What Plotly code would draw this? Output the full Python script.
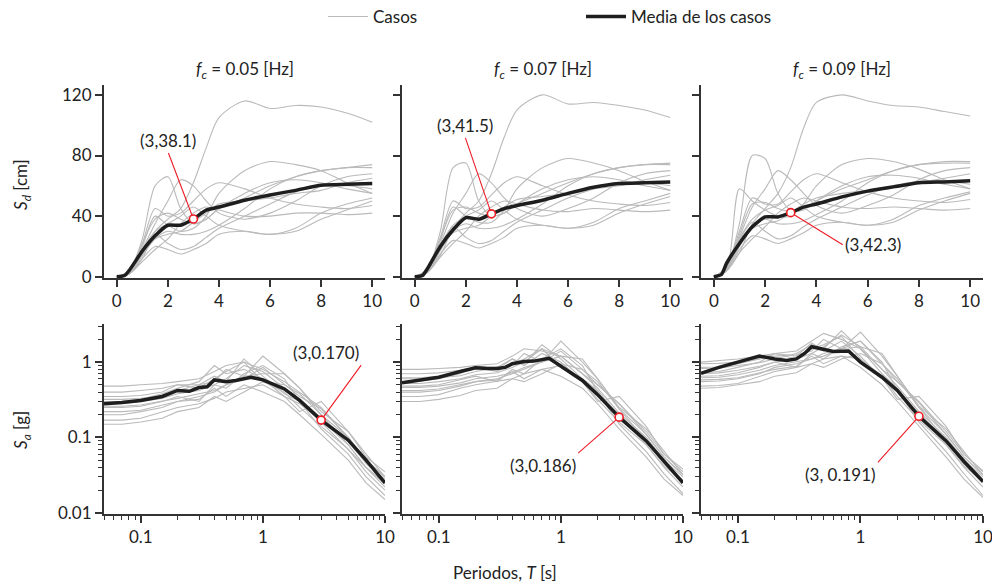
import math
import plotly.graph_objects as go

# ---------------- data ----------------
fc_labels = ["0.05", "0.07", "0.09"]

T_sd = [0, 0.5, 1, 1.5, 2, 2.5, 3, 3.5, 4, 5, 6, 7, 8, 9, 10]
sd_cases_1 = [
    [0, 2, 12, 30, 38, 45, 62, 85, 105, 116, 111, 113, 112, 108, 102],
    [0, 4, 25, 60, 66, 45, 35, 38, 45, 52, 60, 66, 70, 72, 74],
    [0, 3, 18, 35, 50, 64, 60, 50, 42, 38, 42, 50, 60, 66, 68],
    [0, 3, 20, 40, 34, 30, 32, 40, 55, 70, 76, 74, 70, 62, 55],
    [0, 2, 14, 25, 30, 28, 28, 30, 34, 45, 58, 66, 70, 72, 72],
    [0, 3, 16, 28, 22, 18, 20, 26, 32, 40, 48, 56, 60, 60, 58],
    [0, 4, 22, 45, 40, 42, 50, 58, 62, 58, 52, 48, 46, 45, 47],
    [0, 2, 12, 20, 18, 15, 18, 22, 28, 30, 28, 32, 42, 48, 52],
    [0, 3, 18, 30, 35, 40, 46, 40, 34, 30, 28, 30, 38, 44, 50],
    [0, 3, 22, 38, 42, 38, 35, 38, 45, 55, 62, 64, 62, 58, 55],
    [0, 2, 10, 18, 25, 35, 42, 46, 44, 40, 40, 42, 42, 41, 42],
    [0, 3, 15, 25, 28, 30, 36, 42, 48, 50, 52, 55, 57, 62, 65],
]
sd_cases_2 = [
    [0, 3, 14, 32, 42, 50, 68, 92, 110, 120, 114, 115, 113, 110, 105],
    [0, 5, 30, 72, 75, 50, 40, 42, 48, 55, 62, 68, 72, 74, 75],
    [0, 4, 22, 42, 55, 68, 62, 52, 45, 40, 45, 52, 62, 68, 70],
    [0, 4, 24, 46, 40, 36, 36, 44, 58, 72, 78, 75, 70, 63, 57],
    [0, 3, 17, 30, 35, 32, 32, 34, 38, 48, 60, 68, 72, 74, 74],
    [0, 4, 20, 33, 26, 22, 24, 30, 36, 44, 52, 58, 62, 62, 60],
    [0, 5, 26, 50, 45, 46, 54, 62, 66, 60, 54, 50, 48, 47, 49],
    [0, 3, 15, 24, 22, 19, 22, 26, 32, 34, 32, 36, 45, 50, 55],
    [0, 4, 21, 34, 40, 44, 50, 44, 38, 34, 32, 34, 42, 48, 53],
    [0, 4, 25, 44, 46, 42, 40, 42, 48, 58, 64, 66, 64, 60, 57],
    [0, 3, 13, 22, 30, 40, 46, 50, 48, 44, 43, 45, 44, 43, 44],
    [0, 4, 18, 29, 32, 34, 40, 46, 51, 53, 55, 58, 60, 64, 67],
]
sd_cases_3 = [
    [0, 4, 16, 35, 45, 55, 72, 98, 115, 120, 116, 113, 112, 109, 106],
    [0, 6, 35, 80, 78, 55, 44, 45, 50, 58, 64, 70, 74, 76, 76],
    [0, 5, 26, 46, 58, 70, 64, 55, 47, 42, 47, 54, 64, 70, 72],
    [0, 5, 58, 50, 44, 40, 40, 48, 60, 74, 78, 76, 71, 64, 58],
    [0, 4, 20, 34, 38, 35, 35, 37, 41, 50, 62, 70, 74, 75, 75],
    [0, 5, 24, 36, 30, 25, 27, 33, 38, 46, 54, 60, 63, 63, 61],
    [0, 6, 30, 52, 48, 48, 56, 64, 68, 62, 56, 52, 50, 49, 51],
    [0, 4, 18, 27, 25, 22, 25, 29, 34, 36, 34, 38, 47, 52, 56],
    [0, 5, 25, 38, 44, 47, 52, 46, 40, 36, 34, 36, 44, 50, 55],
    [0, 5, 28, 48, 49, 45, 43, 44, 50, 60, 66, 67, 65, 61, 58],
    [0, 4, 16, 25, 33, 42, 48, 52, 50, 46, 45, 46, 45, 44, 45],
    [0, 5, 21, 32, 35, 37, 42, 48, 52, 55, 57, 60, 62, 65, 68],
]

T_sd_mean = [0, 0.3, 0.5, 1, 1.5, 2, 2.5, 3, 3.5, 4, 5, 6, 7, 8, 9, 10]
sd_mean_1 = [0, 0.8, 4.5, 17, 27, 34, 34, 38.1, 44, 46, 50.5, 54, 57, 60.4, 61, 61.5]
sd_mean_2 = [0, 0.8, 5.5, 20, 31, 39, 38, 41.5, 45, 47, 50.5, 55, 59, 61.5, 62, 62.5]
sd_mean_3 = [0, 1.5, 9, 22, 33, 39.5, 39.5, 42.3, 46, 48, 52.7, 56.5, 59.3, 62, 62.6, 63.3]

T_sa = [0.05, 0.07, 0.1, 0.15, 0.2, 0.3, 0.4, 0.5, 0.7, 1, 1.5, 2, 3, 5, 7, 10]
sa_cases_1 = [
    [0.48, 0.48, 0.5, 0.52, 0.55, 0.6, 0.75, 0.9, 1.0, 0.8, 0.55, 0.4, 0.25, 0.1, 0.05, 0.03],
    [0.3, 0.3, 0.32, 0.38, 0.45, 0.55, 0.9, 0.7, 0.8, 0.6, 0.35, 0.28, 0.17, 0.08, 0.04, 0.022],
    [0.2, 0.2, 0.22, 0.25, 0.3, 0.35, 0.4, 0.5, 0.65, 1.2, 0.7, 0.45, 0.22, 0.12, 0.06, 0.03],
    [0.35, 0.35, 0.36, 0.4, 0.5, 0.45, 0.6, 0.75, 1.0, 0.55, 0.4, 0.25, 0.14, 0.07, 0.035, 0.02],
    [0.25, 0.25, 0.26, 0.3, 0.35, 0.3, 0.5, 0.45, 0.7, 0.9, 0.6, 0.3, 0.13, 0.06, 0.03, 0.017],
    [0.17, 0.17, 0.18, 0.22, 0.25, 0.28, 0.33, 0.4, 0.45, 0.5, 0.35, 0.22, 0.3, 0.12, 0.055, 0.035],
    [0.4, 0.4, 0.42, 0.45, 0.5, 0.5, 0.55, 0.8, 0.65, 0.7, 0.7, 0.45, 0.2, 0.08, 0.04, 0.025],
    [0.22, 0.22, 0.23, 0.27, 0.3, 0.32, 0.45, 0.35, 0.5, 0.4, 0.3, 0.2, 0.11, 0.05, 0.025, 0.015],
    [0.28, 0.28, 0.3, 0.33, 0.38, 0.42, 0.5, 0.6, 0.9, 0.75, 0.45, 0.32, 0.18, 0.09, 0.045, 0.028],
    [0.15, 0.15, 0.16, 0.18, 0.22, 0.25, 0.35, 0.3, 0.4, 0.55, 0.5, 0.38, 0.2, 0.1, 0.05, 0.03],
    [0.32, 0.32, 0.33, 0.36, 0.42, 0.5, 0.65, 0.55, 1.1, 0.65, 0.38, 0.3, 0.16, 0.07, 0.04, 0.024],
    [0.26, 0.26, 0.27, 0.3, 0.33, 0.38, 0.42, 0.5, 0.6, 0.85, 0.5, 0.35, 0.24, 0.1, 0.05, 0.03],
]
sa_cases_2 = [
    [0.8, 0.8, 0.82, 0.85, 0.9, 0.95, 1.2, 1.5, 1.4, 1.2, 0.7, 0.5, 0.28, 0.12, 0.06, 0.035],
    [0.55, 0.56, 0.6, 0.7, 0.9, 0.8, 1.1, 0.9, 1.3, 1.0, 0.55, 0.4, 0.2, 0.09, 0.045, 0.025],
    [0.4, 0.4, 0.42, 0.48, 0.55, 0.6, 0.7, 0.8, 1.0, 1.9, 1.0, 0.6, 0.25, 0.13, 0.065, 0.032],
    [0.62, 0.62, 0.65, 0.72, 0.85, 0.75, 0.95, 1.1, 1.5, 0.85, 0.55, 0.32, 0.16, 0.08, 0.04, 0.022],
    [0.48, 0.48, 0.5, 0.58, 0.65, 0.55, 0.8, 0.7, 1.1, 1.5, 0.9, 0.4, 0.15, 0.065, 0.033, 0.018],
    [0.35, 0.35, 0.37, 0.45, 0.5, 0.55, 0.6, 0.7, 0.8, 0.9, 0.55, 0.3, 0.35, 0.14, 0.06, 0.038],
    [0.7, 0.7, 0.72, 0.78, 0.85, 0.85, 0.9, 1.3, 1.0, 1.2, 1.1, 0.6, 0.24, 0.09, 0.045, 0.027],
    [0.42, 0.42, 0.44, 0.5, 0.55, 0.58, 0.75, 0.6, 0.8, 0.65, 0.45, 0.28, 0.13, 0.055, 0.028, 0.017],
    [0.52, 0.52, 0.55, 0.6, 0.68, 0.72, 0.85, 1.0, 1.5, 1.2, 0.7, 0.45, 0.21, 0.1, 0.05, 0.03],
    [0.3, 0.3, 0.32, 0.36, 0.42, 0.45, 0.6, 0.55, 0.7, 0.95, 0.8, 0.55, 0.24, 0.11, 0.055, 0.032],
    [0.6, 0.6, 0.62, 0.66, 0.75, 0.85, 1.1, 0.95, 1.7, 1.1, 0.6, 0.42, 0.19, 0.08, 0.042, 0.026],
    [0.46, 0.46, 0.48, 0.53, 0.6, 0.65, 0.72, 0.85, 1.0, 1.4, 0.8, 0.5, 0.28, 0.11, 0.055, 0.032],
]
sa_cases_3 = [
    [1.0, 1.05, 1.1, 1.2, 1.3, 1.4, 1.9, 2.4, 2.0, 1.5, 0.8, 0.55, 0.3, 0.12, 0.06, 0.035],
    [0.72, 0.75, 0.85, 1.0, 1.3, 1.2, 1.8, 1.4, 1.9, 1.2, 0.6, 0.42, 0.21, 0.09, 0.045, 0.025],
    [0.55, 0.56, 0.6, 0.7, 0.85, 0.95, 1.1, 1.2, 1.5, 2.5, 1.2, 0.65, 0.26, 0.13, 0.065, 0.032],
    [0.85, 0.86, 0.95, 1.1, 1.3, 1.1, 1.5, 1.7, 2.2, 1.1, 0.65, 0.35, 0.17, 0.08, 0.04, 0.022],
    [0.65, 0.66, 0.72, 0.85, 1.0, 0.85, 1.3, 1.1, 1.6, 1.9, 1.0, 0.42, 0.16, 0.065, 0.033, 0.017],
    [0.48, 0.49, 0.52, 0.65, 0.75, 0.85, 0.95, 1.1, 1.2, 1.1, 0.62, 0.32, 0.35, 0.14, 0.06, 0.036],
    [0.95, 0.96, 1.0, 1.1, 1.2, 1.25, 1.4, 2.0, 1.5, 1.6, 1.3, 0.65, 0.25, 0.09, 0.045, 0.027],
    [0.58, 0.59, 0.62, 0.72, 0.8, 0.88, 1.2, 0.95, 1.2, 0.85, 0.5, 0.3, 0.14, 0.055, 0.028, 0.016],
    [0.7, 0.72, 0.78, 0.88, 1.0, 1.1, 1.3, 1.6, 2.3, 1.6, 0.8, 0.48, 0.22, 0.1, 0.05, 0.03],
    [0.45, 0.46, 0.5, 0.55, 0.65, 0.72, 0.95, 0.85, 1.1, 1.3, 0.95, 0.6, 0.25, 0.11, 0.055, 0.032],
    [0.82, 0.83, 0.9, 0.98, 1.1, 1.3, 1.7, 1.5, 2.6, 1.5, 0.7, 0.45, 0.2, 0.08, 0.042, 0.026],
    [0.62, 0.63, 0.68, 0.78, 0.9, 1.0, 1.1, 1.3, 1.5, 1.9, 0.95, 0.55, 0.29, 0.11, 0.055, 0.032],
]

T_sa_mean = [0.05, 0.07, 0.1, 0.15, 0.2, 0.25, 0.3, 0.35, 0.4, 0.5, 0.6, 0.8, 1, 1.5, 2, 3, 5, 7, 10]
sa_mean_1 = [0.28, 0.29, 0.31, 0.35, 0.42, 0.41, 0.46, 0.47, 0.58, 0.55, 0.57, 0.63, 0.58, 0.44, 0.31, 0.170, 0.092, 0.05, 0.025]
sa_mean_2 = [0.53, 0.57, 0.63, 0.75, 0.84, 0.82, 0.82, 0.85, 0.95, 1.02, 1.03, 1.12, 0.88, 0.57, 0.37, 0.186, 0.09, 0.048, 0.025]
sa_mean_3 = [0.71, 0.85, 1.0, 1.2, 1.1, 1.05, 1.1, 1.3, 1.6, 1.48, 1.38, 1.4, 1.0, 0.63, 0.42, 0.191, 0.09, 0.048, 0.026]

T_mark = 3
sd_mark = [38.1, 41.5, 42.3]
sa_mark = [0.170, 0.186, 0.191]
sd_mark_text = ["(3,38.1)", "(3,41.5)", "(3,42.3)"]
sa_mark_text = ["(3,0.170)", "(3,0.186)", "(3, 0.191)"]

sd_ticks = [0, 40, 80, 120]
t_lin_ticks = [0, 2, 4, 6, 8, 10]
t_log_ticks = [0.1, 1, 10]
t_log_ticktext = ["0.1", "1", "10"]
sa_ticks = [0.01, 0.1, 1]
sa_ticktext = ["0.01", "0.1", "1"]
t_log_minor = [0.05, 0.06, 0.07, 0.08, 0.09, 0.2, 0.3, 0.4, 0.5, 0.6, 0.7, 0.8, 0.9,
               2, 3, 4, 5, 6, 7, 8, 9]
sa_minor = [0.02, 0.03, 0.04, 0.05, 0.06, 0.07, 0.08, 0.09,
            0.2, 0.3, 0.4, 0.5, 0.6, 0.7, 0.8, 0.9, 2, 3]

# ---------------- styling ----------------
FONT = "Lato, 'Open Sans', sans-serif"
FS = 17
GRAY = "#bababa"
BLACK = "#1e1e1e"
RED = "#ee1c25"
AXC = "#333333"
TXT = "#222222"

W, H = 992, 584
ML, MR, MT, MB = 104, 9, 85, 70
PW, PH = W - ML - MR, H - MT - MB

def px_x(p):
    return (p - ML) / PW

def px_y(p):
    return (H - MB - p) / PH

x_domains = [(px_x(104), px_x(385)), (px_x(402), px_x(683)), (px_x(701), px_x(983))]
top_dom = (px_y(278), px_y(85))
bot_dom = (px_y(514), px_y(324))

sd_cases = [sd_cases_1, sd_cases_2, sd_cases_3]
sd_means = [sd_mean_1, sd_mean_2, sd_mean_3]
sa_cases = [sa_cases_1, sa_cases_2, sa_cases_3]
sa_means = [sa_mean_1, sa_mean_2, sa_mean_3]

fig = go.Figure()

for j in range(3):
    xt, yt = f"x{j+1}", f"y{j+1}"
    xb, yb = f"x{j+4}", f"y{j+4}"
    for k, c in enumerate(sd_cases[j]):
        fig.add_trace(go.Scatter(x=T_sd, y=c, xaxis=xt, yaxis=yt, mode="lines",
                                 line=dict(color=GRAY, width=1.1, shape="spline", smoothing=0.8),
                                 name="Casos", legend="legend",
                                 showlegend=(j == 0 and k == 0), hoverinfo="skip"))
    for k, c in enumerate(sa_cases[j]):
        fig.add_trace(go.Scatter(x=T_sa, y=c, xaxis=xb, yaxis=yb, mode="lines",
                                 line=dict(color=GRAY, width=1.1),
                                 showlegend=False, hoverinfo="skip"))
for j in range(3):
    xt, yt = f"x{j+1}", f"y{j+1}"
    xb, yb = f"x{j+4}", f"y{j+4}"
    fig.add_trace(go.Scatter(x=T_sd_mean, y=sd_means[j], xaxis=xt, yaxis=yt, mode="lines",
                             line=dict(color=BLACK, width=3.5, shape="spline", smoothing=0.6),
                             name="Media de los casos", legend="legend2",
                             showlegend=(j == 0)))
    fig.add_trace(go.Scatter(x=T_sa_mean, y=sa_means[j], xaxis=xb, yaxis=yb, mode="lines",
                             line=dict(color=BLACK, width=3.5), showlegend=False))
    fig.add_trace(go.Scatter(x=[T_mark], y=[sd_mark[j]], xaxis=xt, yaxis=yt, mode="markers",
                             marker=dict(symbol="circle", size=8, color="white",
                                         line=dict(color=RED, width=1.6)),
                             showlegend=False))
    fig.add_trace(go.Scatter(x=[T_mark], y=[sa_mark[j]], xaxis=xb, yaxis=yb, mode="markers",
                             marker=dict(symbol="circle", size=8, color="white",
                                         line=dict(color=RED, width=1.6)),
                             showlegend=False))

axis_common = dict(showline=True, linewidth=2, linecolor=AXC, ticks="outside",
                   ticklen=7, tickwidth=1.5, tickcolor=AXC, showgrid=False,
                   zeroline=False, tickfont=dict(family=FONT, size=FS, color=TXT),
                   ticklabeloverflow="allow")

layout = dict(
    width=W, height=H, plot_bgcolor="white", paper_bgcolor="white",
    margin=dict(l=ML, r=MR, t=MT, b=MB, autoexpand=False),
    font=dict(family=FONT, size=FS, color=TXT),
    showlegend=True,
)
for j in range(3):
    layout[f"xaxis{j+1}"] = dict(axis_common, domain=x_domains[j], anchor=f"y{j+1}",
                                 range=[-0.5, 10.5], tickmode="array", tickvals=t_lin_ticks)
    layout[f"yaxis{j+1}"] = dict(axis_common, domain=top_dom, anchor=f"x{j+1}",
                                 range=[-0.8, 126.5], tickmode="array", tickvals=sd_ticks,
                                 showticklabels=(j == 0))
    layout[f"xaxis{j+4}"] = dict(axis_common, domain=x_domains[j], anchor=f"y{j+4}",
                                 type="log", range=[math.log10(0.05), 1],
                                 tickmode="array", tickvals=t_log_ticks, ticktext=t_log_ticktext,
                                 minor=dict(tickmode="array", tickvals=t_log_minor, ticks="outside",
                                            ticklen=4, tickwidth=1.2, tickcolor=AXC, showgrid=False))
    layout[f"yaxis{j+4}"] = dict(axis_common, domain=bot_dom, anchor=f"x{j+4}",
                                 type="log", range=[-2.015, 0.505],
                                 tickmode="array", tickvals=sa_ticks, ticktext=sa_ticktext,
                                 showticklabels=(j == 0),
                                 minor=dict(tickmode="array", tickvals=sa_minor, ticks="outside",
                                            ticklen=4, tickwidth=1.2, tickcolor=AXC, showgrid=False))

layout["legend"] = dict(x=px_x(323), y=px_y(17), xanchor="left", yanchor="middle",
                        orientation="h", bgcolor="rgba(0,0,0,0)", itemwidth=40,
                        font=dict(family=FONT, size=FS, color=TXT))
layout["legend2"] = dict(x=px_x(581), y=px_y(17), xanchor="left", yanchor="middle",
                         orientation="h", bgcolor="rgba(0,0,0,0)", itemwidth=40,
                         font=dict(family=FONT, size=FS, color=TXT))

annotations = []
for j in range(3):
    cx = (x_domains[j][0] + x_domains[j][1]) / 2
    annotations.append(dict(xref="paper", yref="paper", x=cx, y=px_y(70),
                            text=f"<i>f</i><sub><i>c</i></sub> = {fc_labels[j]} [Hz]",
                            showarrow=False, xanchor="center", yanchor="middle",
                            font=dict(family=FONT, size=FS, color=TXT)))

annotations.append(dict(xref="paper", yref="paper", x=px_x(22), y=px_y(185),
                        text="<i>S</i><sub><i>d</i></sub> [cm]", textangle=-90,
                        showarrow=False, xanchor="center", yanchor="middle"))
annotations.append(dict(xref="paper", yref="paper", x=px_x(22), y=px_y(430),
                        text="<i>S</i><sub><i>a</i></sub> [g]", textangle=-90,
                        showarrow=False, xanchor="center", yanchor="middle"))
annotations.append(dict(xref="paper", yref="paper", x=px_x(505), y=px_y(572),
                        text="Periodos, <i>T</i> [s]",
                        showarrow=False, xanchor="center", yanchor="middle"))

# callout placements (pixel offsets of label anchor from the marked point)
sd_offsets = [dict(ax=-25, ay=-66, xanchor="center", yanchor="bottom"),
              dict(ax=-26, ay=-76, xanchor="center", yanchor="bottom"),
              dict(ax=52, ay=32, xanchor="left", yanchor="middle")]
sa_offsets = [dict(ax=40, ay=-55, xanchor="right", yanchor="bottom"),
              dict(ax=-41, ay=36, xanchor="right", yanchor="top"),
              dict(ax=-41, ay=46, xanchor="right", yanchor="top")]
for j in range(3):
    annotations.append(dict(xref=f"x{j+1}", yref=f"y{j+1}", x=T_mark, y=sd_mark[j],
                            text=sd_mark_text[j], showarrow=True, arrowhead=0,
                            arrowwidth=1.1, arrowcolor=RED, standoff=4,
                            font=dict(family=FONT, size=FS, color=TXT), **sd_offsets[j]))
    annotations.append(dict(xref=f"x{j+4}", yref=f"y{j+4}", x=math.log10(T_mark),
                            y=math.log10(sa_mark[j]),
                            text=sa_mark_text[j], showarrow=True, arrowhead=0,
                            arrowwidth=1.1, arrowcolor=RED, standoff=4,
                            font=dict(family=FONT, size=FS, color=TXT), **sa_offsets[j]))
layout["annotations"] = annotations

fig.update_layout(**layout)
fig.write_html("out.html")
